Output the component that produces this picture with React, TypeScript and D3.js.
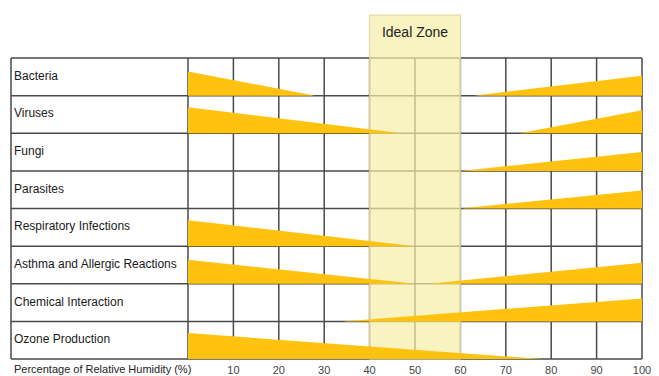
import React from "react";
import * as d3 from "d3";

const categories = [
  "Bacteria",
  "Viruses",
  "Fungi",
  "Parasites",
  "Respiratory Infections",
  "Asthma and Allergic Reactions",
  "Chemical Interaction",
  "Ozone Production",
];
// Low-humidity wedge: relative size at 0% and humidity (%) where it vanishes
const lowIntensity = [0.64, 0.69, 0, 0, 0.69, 0.64, 0, 0.69];
const lowEndPct = [28, 47, 0, 0, 50, 50, 0, 78];
// High-humidity wedge: humidity (%) where it starts and relative size at 100%
const highStartPct = [63, 73, 60, 60, 100, 53, 34, 100];
const highIntensity = [0.53, 0.61, 0.5, 0.48, 0, 0.56, 0.61, 0];
const tickValues = [10, 20, 30, 40, 50, 60, 70, 80, 90, 100];
const idealZone = [40, 60];
const axisTitle = "Percentage of Relative Humidity (%)";
const zoneLabel = "Ideal Zone";

export default function App() {
  const W = 659, H = 376;
  const left = 11, gridLeft = 188, right = 642, top = 58, bottom = 359;
  const x = d3.scaleLinear().domain([0, 100]).range([gridLeft, right]);
  const y = d3.scaleBand<string>().domain(categories).range([top, bottom]).padding(0);
  const bw = y.bandwidth();
  const h = d3.scaleLinear().domain([0, 1]).range([0, bw]);
  const gold = "#FFC20E";
  const gridColor = "#4a4a4a";
  const font = "'Liberation Sans', Arial, sans-serif";

  const wedges: { key: string; d: string }[] = [];
  categories.forEach((c, i) => {
    const base = (y(c) as number) + bw;
    const area = d3
      .area<{ p: number; v: number }>()
      .x((d) => x(d.p))
      .y0(base)
      .y1((d) => base - h(d.v));
    if (lowIntensity[i] > 0) {
      wedges.push({
        key: c + "-low",
        d: area([
          { p: 0, v: lowIntensity[i] },
          { p: lowEndPct[i], v: 0 },
        ]) as string,
      });
    }
    if (highIntensity[i] > 0) {
      wedges.push({
        key: c + "-high",
        d: area([
          { p: highStartPct[i], v: 0 },
          { p: 100, v: highIntensity[i] },
        ]) as string,
      });
    }
  });

  const gridTicks = d3.range(0, 101, 10);

  return (
    <svg
      width={W}
      height={H}
      style={{ position: "absolute", left: 0, top: 0, background: "#fff" }}
      fontFamily={font}
    >
      <rect x={0} y={0} width={W} height={H} fill="#fff" />
      {/* grid */}
      {categories.map((c) => (
        <line
          key={"h" + c}
          x1={left}
          x2={right}
          y1={(y(c) as number) + bw}
          y2={(y(c) as number) + bw}
          stroke={gridColor}
          strokeWidth={1.5}
        />
      ))}
      <line x1={left} x2={right} y1={top} y2={top} stroke={gridColor} strokeWidth={1.5} />
      <line x1={left} x2={left} y1={top} y2={bottom} stroke={gridColor} strokeWidth={1.5} />
      {gridTicks.map((t) => (
        <line
          key={"v" + t}
          x1={x(t)}
          x2={x(t)}
          y1={top}
          y2={bottom}
          stroke={gridColor}
          strokeWidth={1.5}
        />
      ))}
      {/* ideal zone */}
      <rect
        x={x(idealZone[0])}
        y={15}
        width={x(idealZone[1]) - x(idealZone[0])}
        height={bottom - 15}
        fill="#f7eda6"
        fillOpacity={0.7}
        stroke="#ddd59a"
        strokeWidth={1}
      />
      <text
        x={(x(idealZone[0]) + x(idealZone[1])) / 2}
        y={37}
        textAnchor="middle"
        fontSize={14}
        fill="#222"
      >
        {zoneLabel}
      </text>
      {/* wedges */}
      {wedges.map((w) => (
        <path key={w.key} d={w.d} fill={gold} />
      ))}
      {/* category labels */}
      {categories.map((c) => (
        <text
          key={"t" + c}
          x={14}
          y={(y(c) as number) + bw / 2 - 1}
          dominantBaseline="central"
          fontSize={12}
          fill="#1a1a1a"
        >
          {c}
        </text>
      ))}
      {/* axis */}
      <text x={14} y={373} fontSize={11} fill="#222">
        {axisTitle}
      </text>
      {tickValues.map((t) => (
        <text
          key={"tk" + t}
          x={x(t)}
          y={374}
          textAnchor="middle"
          fontSize={11}
          fill="#444"
        >
          {t}
        </text>
      ))}
    </svg>
  );
}
